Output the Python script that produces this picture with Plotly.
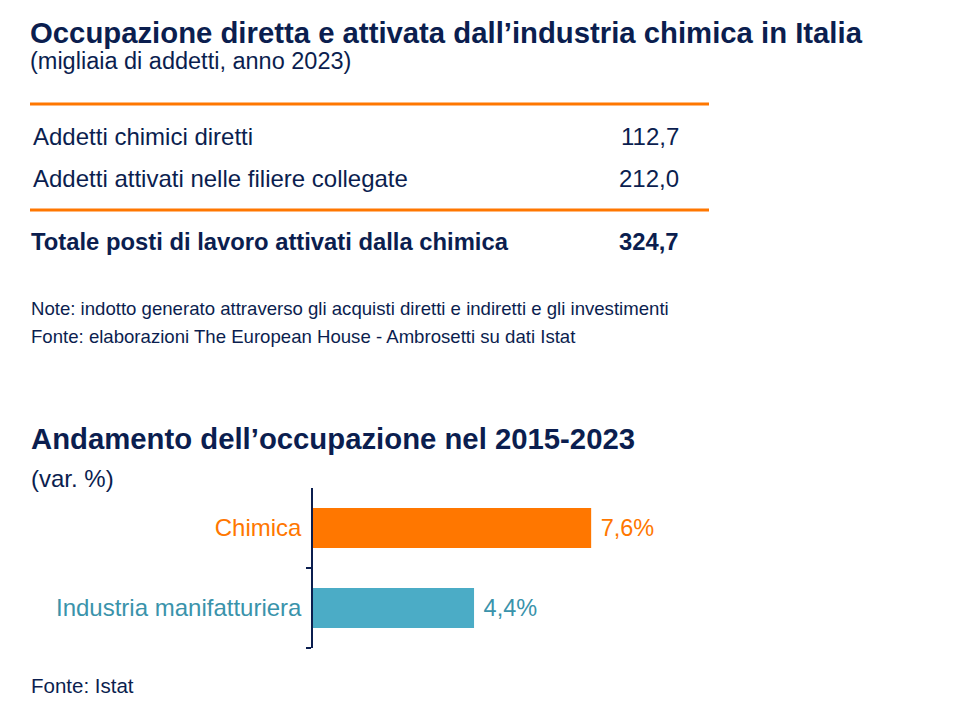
import plotly.graph_objects as go

# ---- data ----
title_main = "Occupazione diretta e attivata dall’industria chimica in Italia"
subtitle_main = "(migliaia di addetti, anno 2023)"
table_labels = ["Addetti chimici diretti", "Addetti attivati nelle filiere collegate"]
table_values = [112.7, 212.0]
total_label = "Totale posti di lavoro attivati dalla chimica"
total_value = 324.7
notes = ["Note: indotto generato attraverso gli acquisti diretti e indiretti e gli investimenti",
         "Fonte: elaborazioni The European House - Ambrosetti su dati Istat"]

title_bar = "Andamento dell’occupazione nel 2015-2023"
subtitle_bar = "(var. %)"
categories = ["Chimica", "Industria manifatturiera"]
var_values = [7.6, 4.4]
source_bar = "Fonte: Istat"

NAVY = "#0B1E4F"
ORANGE = "#FF7700"
TEAL = "#4BACC6"
TEAL_TXT = "#3A93AB"
FONT = "Liberation Sans, Arial, sans-serif"

def fmt(v, d=1):
    return f"{v:.{d}f}".replace(".", ",")

W, H = 960, 720
OFF = 8  # page body margin
def py(y):  # pixel from top of window -> paper y
    return 1 - (y - OFF) / H
def px(x):
    return (x - OFF) / W

fig = go.Figure()

bar_colors = [ORANGE, TEAL]
text_colors = [ORANGE, TEAL_TXT]
fig.add_trace(go.Bar(
    y=categories, x=var_values, orientation="h",
    marker=dict(color=bar_colors, line=dict(width=0)),
    text=[" " + fmt(v) + "%" for v in var_values],
    textposition="outside",
    textfont=dict(color=text_colors, size=23.5, family=FONT),
    cliponaxis=False,
    hoverinfo="skip",
))

fig.update_layout(
    width=W, height=H,
    margin=dict(l=0, r=0, t=0, b=0),
    paper_bgcolor="white", plot_bgcolor="white",
    showlegend=False,
    bargap=0.5,
    font=dict(family=FONT, color=NAVY),
    xaxis=dict(domain=[px(313), px(679)], range=[0, 10], visible=False),
    yaxis=dict(domain=[py(648), py(488)],
               categoryorder="array", categoryarray=categories[::-1],
               tickmode="array", tickvals=categories,
               ticktext=[f"<span style='color:{c}'>{t}</span>" for t, c in zip(categories, text_colors)],
               tickson="boundaries", ticks="outside", ticklen=5, tickcolor=NAVY, tickwidth=1.5,
               showline=True, linecolor=NAVY, linewidth=1.5,
               tickfont=dict(size=24, family=FONT),
               ticklabelstandoff=5,
               showgrid=False, zeroline=False),
)

ann = []
def text(x, y, s, size, bold=False, color=NAVY, xanchor="left"):
    ann.append(dict(x=px(x), y=py(y), xref="paper", yref="paper", text=(f"<b>{s}</b>" if bold else s),
                    showarrow=False, xanchor=xanchor, yanchor="middle",
                    font=dict(size=size, color=color, family=FONT)))

text(28, 33, title_main, 29.3, bold=True)
text(28, 61, subtitle_main, 23.5)

# table
shapes = []
for yl in [104, 210]:
    shapes.append(dict(type="line", xref="paper", yref="paper", x0=px(30), x1=px(709),
                       y0=py(yl), y1=py(yl), line=dict(color=ORANGE, width=3)))
row_y = [136, 178]
for lbl, val, yy in zip(table_labels, table_values, row_y):
    text(31, yy, lbl, 24)
    text(681, yy, fmt(val), 24, xanchor="right")
text(29, 242, total_label, 23.8, bold=True)
text(681, 242, fmt(total_value), 23.8, bold=True, xanchor="right")

text(29, 308, notes[0], 18.6)
text(29, 337, notes[1], 18.6)

text(29, 438, title_bar, 29.3, bold=True)
text(29, 478, subtitle_bar, 24)
text(29, 685, source_bar, 20.5)

fig.update_layout(annotations=ann, shapes=shapes)
fig.write_html("out.html")
